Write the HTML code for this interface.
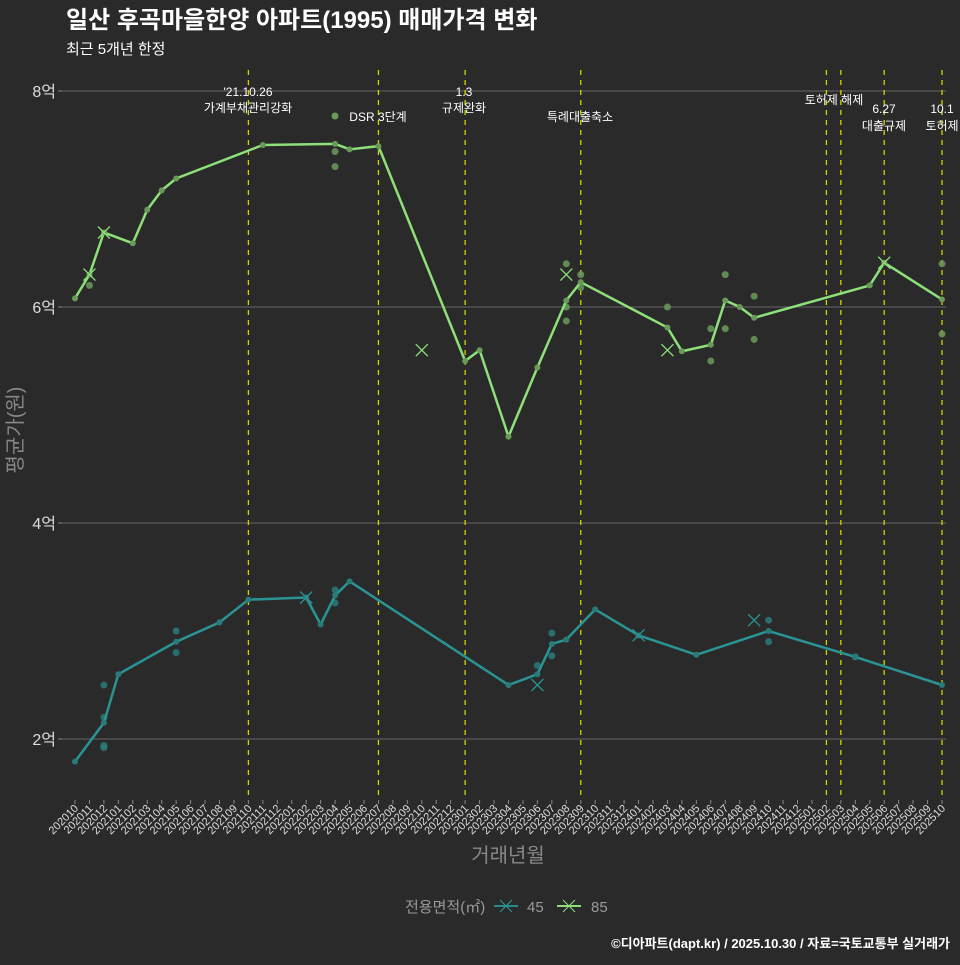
<!DOCTYPE html>
<html><head><meta charset="utf-8"><style>
body{margin:0;background:#2a2a2a;}
svg text{font-family:"Liberation Sans","Noto Sans CJK KR",sans-serif;}
</style></head><body>
<svg id="c" width="960" height="960" xmlns="http://www.w3.org/2000/svg">
<rect width="960" height="960" fill="#2a2a2a"/>
<text x="66" y="28" font-size="24" font-weight="bold" fill="#fff">일산 후곡마을한양 아파트(1995) 매매가격 변화</text>
<text x="66" y="54" font-size="15" fill="#fff">최근 5개년 한정</text>
<g id="grid"></g><g id="vl"></g><g id="ann"></g><g id="marks"></g><g id="xt"></g>
<text transform="translate(22,430) rotate(-90)" text-anchor="middle" font-size="20" fill="#888">평균가(원)</text>
<text x="508" y="862" text-anchor="middle" font-size="20" fill="#888">거래년월</text>
<g>
<text x="405" y="912" font-size="15" fill="#999">전용면적(㎡)</text>
<g><line x1="494" y1="906" x2="518" y2="906" stroke="#2a8a8a" stroke-width="2"/><path d="M500 900L512 912M500 912L512 900" stroke="#2a9a9a"/><text x="527" y="912" font-size="15" fill="#999">45</text></g>
<g><line x1="557" y1="906" x2="581" y2="906" stroke="#8de07a" stroke-width="2"/><path d="M563 900L575 912M563 912L575 900" stroke="#8de07a"/><text x="591" y="912" font-size="15" fill="#999">85</text></g>
</g>
<text x="950" y="948" text-anchor="end" font-size="13" font-weight="bold" fill="#fff">©디아파트(dapt.kr) / 2025.10.30 / 자료=국토교통부 실거래가</text>
</svg>
<script>
const months=[];for(let i=0;i<61;i++){const y=2020+Math.floor((9+i)/12),m=(9+i)%12+1;months.push(''+y+(m<10?'0':'')+m);}
const yTicks=[2,4,6,8];
const yTickLabels=['2억','4억','6억','8억'];
const line85M=[0,1,2,4,5,6,7,13,18,19,21,27,28,30,32,34,35,41,42,44,45,46,47,55,56,60];
const line85V=[6.08,6.30,6.69,6.59,6.90,7.08,7.19,7.50,7.51,7.46,7.49,5.50,5.60,4.80,5.44,6.06,6.23,5.81,5.59,5.65,6.06,6.00,5.90,6.20,6.41,6.07];
const pts85M=[1,18,18,34,34,34,35,35,41,44,44,45,45,47,47,60,60];
const pts85V=[6.20,7.44,7.30,6.40,6.00,5.87,6.30,6.18,6.00,5.80,5.50,6.30,5.80,6.10,5.70,6.40,5.75];
const x85M=[1,2,24,34,41,56];
const x85V=[6.30,6.69,5.60,6.30,5.60,6.41];
const line45M=[0,2,3,7,10,12,16,17,18,19,30,32,33,34,36,39,43,48,54,60];
const line45V=[1.79,2.15,2.60,2.90,3.08,3.29,3.31,3.06,3.33,3.46,2.50,2.60,2.88,2.92,3.20,2.96,2.78,3.00,2.76,2.50];
const pts45M=[2,2,2,2,7,7,18,18,32,33,33,48,48,54];
const pts45V=[2.50,2.20,1.94,1.92,3.00,2.80,3.38,3.26,2.68,2.98,2.77,3.10,2.90,2.76];
const x45M=[16,32,39,47];
const x45V=[3.31,2.50,2.96,3.10];
const eventM=[12,21,27,35,52,53,56,60];
const X=m=>75+m*14.45, Y=v=>91+(8-v)*108;
const NS='http://www.w3.org/2000/svg';
function mk(t,a,p){const e=document.createElementNS(NS,t);for(const k in a)e.setAttribute(k,a[k]);p.appendChild(e);return e;}
const g=document.getElementById('grid'),vl=document.getElementById('vl'),mg=document.getElementById('marks'),xt=document.getElementById('xt'),an=document.getElementById('ann');
yTicks.forEach((v,i)=>{
 const l=mk('line',{x1:62,x2:946,y1:Y(v),y2:Y(v),stroke:'#666','stroke-width':1},g);
 
 
 mk('line',{x1:58,x2:62,y1:Y(v),y2:Y(v),stroke:'#888'},g);
 const t=mk('text',{x:56,y:Y(v)+6,'text-anchor':'end','font-size':16,fill:'#ddd'},g);t.textContent=yTickLabels[i];
 
 
});
eventM.forEach(m=>{
 const l=mk('line',{x1:X(m),x2:X(m),y1:70,y2:800,stroke:'#d4d400','stroke-width':1.3,'stroke-dasharray':'5,5'},vl);
 
 
});
months.forEach((s,i)=>{
 mk('line',{x1:X(i),x2:X(i),y1:800,y2:804,stroke:'#888'},xt);
 const t=mk('text',{transform:`translate(${X(i)+4},809) rotate(-45)`,'text-anchor':'end','font-size':11,fill:'#ddd'},xt);t.textContent=s;
 
 
});
const anns=[[248,96,"'21.10.26"],[248,112,'가계부채관리강화'],[378,121,'DSR 3단계'],[464,96,'1.3'],[464,112,'규제완화'],[580,121,'특례대출축소'],[834,104,'토허제 해제'],[884,113,'6.27'],[884,130,'대출규제'],[942,113,'10.1'],[942,130,'토허제']];
anns.forEach(a=>{const t=mk('text',{x:a[0],y:a[1],'text-anchor':'middle','font-size':12,fill:'#fff'},an);t.textContent=a[2];
 
 });
mk('circle',{cx:335,cy:116,r:3.5,fill:'#6a9a5a'},an);
function series(lm,lv,pm,pv,xm,xv,col,dot,name){
 pm.forEach((m,i)=>{const c=mk('circle',{cx:X(m),cy:Y(pv[i]),r:3.5,fill:dot,opacity:0.85},mg);
  
  });
 const p=mk('polyline',{points:lm.map((m,i)=>X(m)+','+Y(lv[i])).join(' '),fill:'none',stroke:col,'stroke-width':2.5},mg);
 
 
 lm.forEach((m,i)=>mk('circle',{cx:X(m),cy:Y(lv[i]),r:3,fill:dot},mg));
 xm.forEach((m,i)=>{const x=X(m),y=Y(xv[i]);const e=mk('path',{d:`M${x-6} ${y-6}L${x+6} ${y+6}M${x-6} ${y+6}L${x+6} ${y-6}`,stroke:col,'stroke-width':1.3},mg);
  
  });
}
series(line45M,line45V,pts45M,pts45V,x45M,x45V,'#2a9494','#2a7a7a','45');
series(line85M,line85V,pts85M,pts85V,x85M,x85V,'#8de07a','#6a9a5a','85');
</script>
</body></html>
